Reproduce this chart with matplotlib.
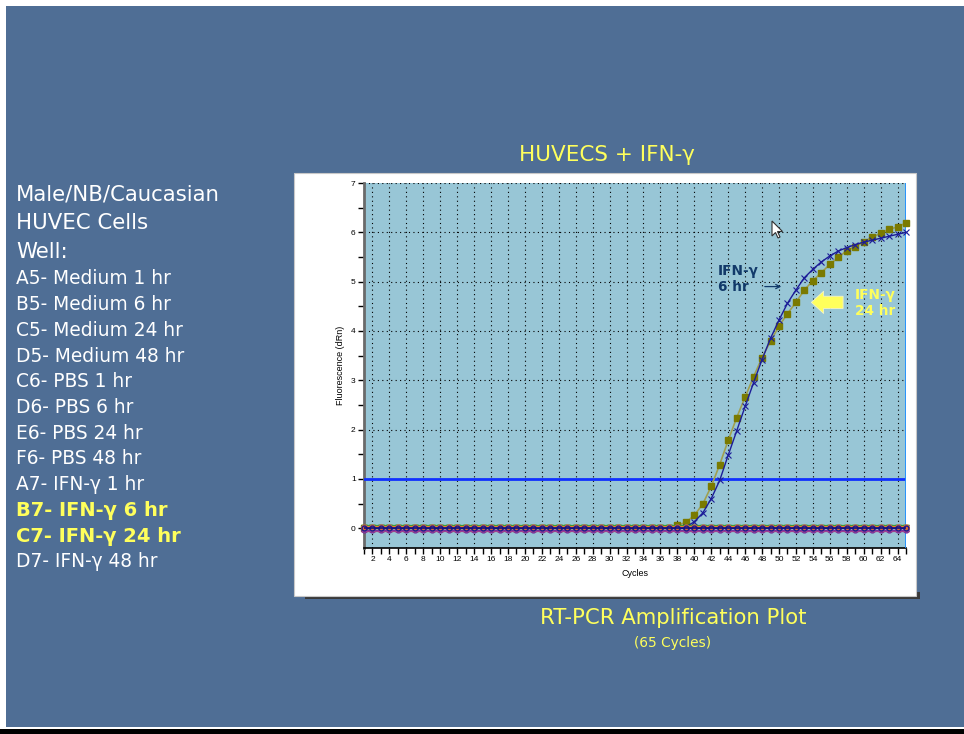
import matplotlib.pyplot as plt
import matplotlib.patches as patches
import numpy as np

# cycle numbers and the two highlighted wells (dRn)
cycles = np.arange(1, 66)
ifn_6hr = [0.0] * 38 + [0.03, 0.13, 0.31, 0.60, 0.97, 1.48, 1.97, 2.47, 2.95, 3.42,
                        3.85, 4.22, 4.56, 4.83, 5.08, 5.25, 5.40, 5.52, 5.62, 5.69,
                        5.75, 5.80, 5.84, 5.88, 5.92, 5.96, 6.00]
ifn_24hr = [0.0] * 37 + [0.06, 0.12, 0.26, 0.49, 0.85, 1.29, 1.78, 2.24, 2.66, 3.07,
                         3.46, 3.79, 4.10, 4.35, 4.58, 4.83, 5.02, 5.18, 5.35, 5.49,
                         5.63, 5.71, 5.81, 5.90, 5.98, 6.06, 6.11, 6.19]

# flat wells (no amplification), baseline level of each
flat_wells = ['A5', 'B5', 'C5', 'D5', 'C6', 'D6', 'E6', 'F6', 'A7', 'D7']
flat_levels = [0.07, 0.05, -0.05, 0.03, 0.0, -0.03, 0.06, 0.02, -0.06, 0.01]
flat_colors = ['#2e9b2e', '#ff8c1a', '#c0504d', '#b03a8a', '#e05a20',
               '#7030a0', '#3a9a3a', '#e06040', '#a04090', '#1a1a90']
flat_markers = ['_', '_', '_', '_', 'o', 'o', '_', 'o', '_', 'o']

threshold = 1.0

well_list = ['A5- Medium 1 hr', 'B5- Medium 6 hr', 'C5- Medium 24 hr', 'D5- Medium 48 hr',
             'C6- PBS 1 hr', 'D6- PBS 6 hr', 'E6- PBS 24 hr', 'F6- PBS 48 hr',
             'A7- IFN-γ 1 hr', 'B7- IFN-γ 6 hr', 'C7- IFN-γ 24 hr', 'D7- IFN-γ 48 hr']
highlight = ['B7- IFN-γ 6 hr', 'C7- IFN-γ 24 hr']

W, H = 964, 734
fig = plt.figure(figsize=(W / 100, H / 100), dpi=100, facecolor='white')

def px(x, y):
    return x / W, 1 - y / H

def box(x0, y0, x1, y1, **kw):
    # rectangle given in pixel coords (origin top-left)
    fig.patches.append(patches.Rectangle(px(x0, y1), (x1 - x0) / W, (y1 - y0) / H,
                                         transform=fig.transFigure, zorder=-10, **kw))

# slide background
box(6, 6, 964, 727, facecolor='#4f6e95', edgecolor='none')
box(0, 729, 964, 734, facecolor='black', edgecolor='none')
# chart panel with shadow
box(305, 592, 920, 599, facecolor='#3a3a3a', edgecolor='none')
box(294, 173, 916, 596, facecolor='white', edgecolor='#c8c8c8', linewidth=0.8)

yellow = '#ffff5c'

# left-hand text
for i, s in enumerate(['Male/NB/Caucasian', 'HUVEC Cells', 'Well:']):
    fig.text(16 / W, 1 - (194 + 29 * i) / H, s, color='white', fontsize=15.3,
             va='center', family='DejaVu Sans')
for i, s in enumerate(well_list):
    hl = s in highlight
    fig.text(16 / W, 1 - (279 + 25.7 * i) / H, s, color=yellow if hl else 'white',
             fontsize=14.0 if hl else 13.4, fontweight='bold' if hl else 'normal',
             va='center', family='DejaVu Sans')

fig.text(607 / W, 1 - 155 / H, 'HUVECS + IFN-γ', color=yellow, fontsize=15.5,
         ha='center', va='center', family='DejaVu Sans')
fig.text(673 / W, 1 - 618 / H, 'RT-PCR Amplification Plot', color=yellow, fontsize=15.3,
         ha='center', va='center', family='DejaVu Sans')
fig.text(673 / W, 1 - 643 / H, '(65 Cycles)', color=yellow, fontsize=9.9,
         ha='center', va='center', family='DejaVu Sans')

# amplification plot
ax = fig.add_axes([364 / W, 1 - 548 / H, 542 / W, 365 / H])
ax.set_facecolor('#98c6d6')
ax.set_xlim(1, 65)
ax.set_ylim(-0.4, 7)

ax.set_xticks(np.arange(2, 65, 2))
ax.set_xticks(np.arange(1, 66, 1), minor=True)
ax.set_yticks(np.arange(0, 8, 1))
ax.set_yticks(np.arange(0.5, 7, 1), minor=True)
ax.tick_params(axis='both', labelsize=6, length=4, width=1, pad=2,
               labelfontfamily='Liberation Sans')
ax.tick_params(axis='both', which='minor', length=4, width=1)
ax.grid(True, which='major', color='black', linestyle=(0, (1, 3)), linewidth=0.8)
for spine in ['top', 'right']:
    ax.spines[spine].set_visible(False)
ax.spines['left'].set_color('#6a6a6a')
ax.spines['left'].set_linewidth(2)
ax.spines['bottom'].set_linewidth(1.2)

ax.set_xlabel('Cycles', fontsize=6.5, family='Liberation Sans', labelpad=4)
ax.set_ylabel('Fluorescence (dRn)', fontsize=6.5, family='Liberation Sans', labelpad=4)

# threshold and right cursor line
ax.axhline(threshold, color='#1030ff', linewidth=2, zorder=3)
ax.axvline(65, color='#1e8fff', linewidth=2, zorder=3)

ax.plot(cycles, ifn_24hr, color='#a0a050', linewidth=1.2, marker='s', markersize=5,
        markerfacecolor='#7a7a00', markeredgecolor='#7a7a00', zorder=4, clip_on=False)
ax.plot(cycles, ifn_6hr, color='#1c1c98', linewidth=1.0, marker='x', markersize=5,
        markeredgewidth=0.8, zorder=5, clip_on=False)

for lvl, c, m in zip(flat_levels, flat_colors, flat_markers):
    ax.plot(cycles, [lvl] * len(cycles), color=c, linewidth=0.8, marker=m,
            markersize=5 if m == '_' else 3.5, markeredgewidth=1.0,
            markerfacecolor=c if m != 'o' else '#e06a30',
            zorder=6, clip_on=False)
ax.axhline(0, color='#101080', linewidth=1.2, zorder=7)

# labels on the two IFN-γ curves
ax.text(42.8, 5.05, 'IFN-γ\n6 hr', color='#123a6a', fontsize=9.8, fontweight='bold',
        va='center', ha='left', linespacing=1.2, family='DejaVu Sans', zorder=8)
ax.annotate('', xy=(50.6, 4.9), xytext=(48.0, 4.9),
            arrowprops=dict(arrowstyle='->,head_length=0.3,head_width=0.15',
                            color='#123a6a', lw=0.9), zorder=8)
ax.text(59.0, 4.56, 'IFN-γ\n24 hr', color=yellow, fontsize=9.8, fontweight='bold',
        va='center', ha='left', linespacing=1.2, family='DejaVu Sans', zorder=8)
ax.annotate('', xy=(53.5, 4.58), xytext=(57.9, 4.58),
            arrowprops=dict(arrowstyle='simple,head_width=1.0,head_length=0.55,tail_width=0.55',
                            mutation_scale=16, color=yellow, ec='#f4f4c8', lw=0.6),
            zorder=8)

# mouse pointer left on the plot
cur = np.array([[0, 0], [0, 15], [3.5, 11.5], [6, 17], [8, 16], [5.5, 10.5], [10.5, 10.5]])
fig.patches.append(patches.Polygon([px(772 + a, 221 + b) for a, b in cur],
                                   closed=True, transform=fig.transFigure,
                                   facecolor='white', edgecolor='#303030', lw=0.8,
                                   zorder=10))

fig.savefig('out.png', dpi=100, facecolor='white')
